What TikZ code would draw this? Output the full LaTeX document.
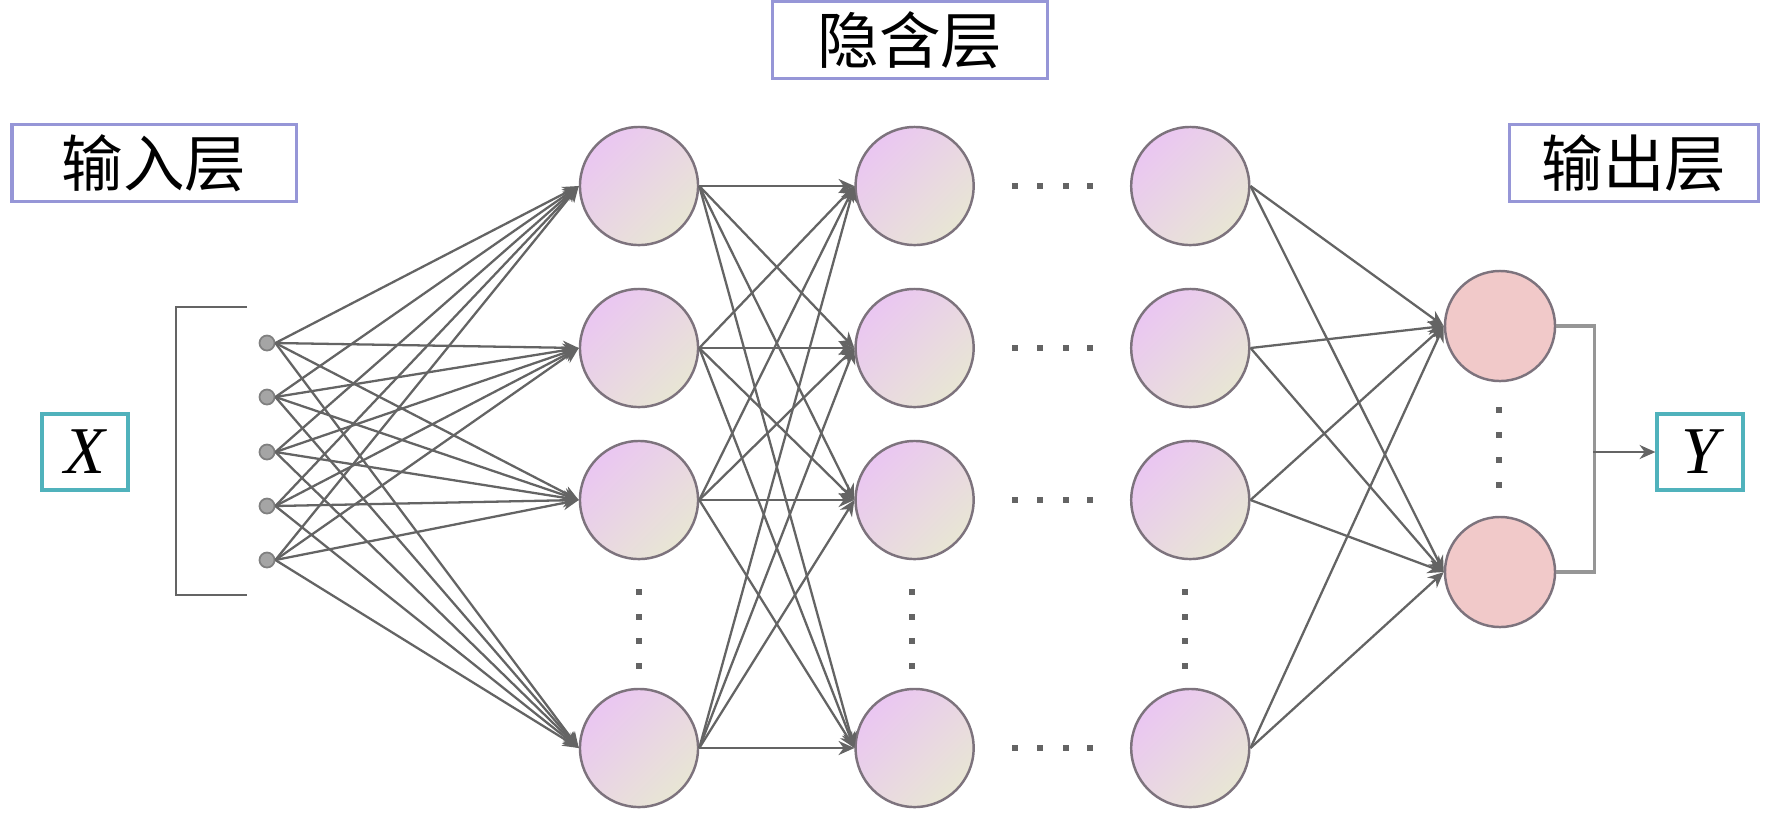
\documentclass[tikz,border=0pt]{standalone}
\usepackage{fontspec}
\setmainfont{Liberation Serif}
\newfontfamily\cjk{Noto Sans CJK SC}
\usepackage{tikz}
\usetikzlibrary{positioning}
\usetikzlibrary{arrows.meta}
\definecolor{linegray}{RGB}{100,100,100}
\definecolor{joingray}{RGB}{150,150,150}
\definecolor{nodeborder}{RGB}{125,115,125}
\definecolor{hidtop}{RGB}{234,198,242}
\definecolor{hidbot}{RGB}{232,230,212}
\definecolor{outfill}{RGB}{241,201,201}
\definecolor{dotfill}{RGB}{165,165,165}
\definecolor{labelblue}{RGB}{150,150,215}
\definecolor{varteal}{RGB}{80,178,188}

\begin{document}
\begin{tikzpicture}[x=0.01cm,y=-0.01cm,
  hidden/.style={circle,draw=nodeborder,line width=0.7pt,minimum size=1.18cm,inner sep=0pt,top color=hidtop,bottom color=hidbot,shading angle=45},
  outnode/.style={circle,draw=nodeborder,line width=0.7pt,minimum size=1.1cm,inner sep=0pt,fill=outfill},
  innode/.style={circle,draw=gray,line width=0.5pt,minimum size=0.15cm,inner sep=0pt,fill=dotfill},
  labelbox/.style={draw=labelblue,line width=0.9pt,minimum width=2.84cm,minimum height=0.77cm,inner sep=0pt,font=\cjk\fontsize{17.5}{20}\selectfont},
  varbox/.style={draw=varteal,line width=0.9pt,minimum width=0.86cm,minimum height=0.76cm,inner sep=0pt,font=\fontsize{19}{22}\selectfont\itshape},
  edge/.style={linegray,line width=0.65pt,->,>={Stealth[length=4.5pt,width=4pt]}}]
\useasboundingbox (0,0) rectangle (1772,814);

% labels
\node (inputlabel) at (154,163) [labelbox] {输入层};
\node (hiddenlabel) at (910,40) [labelbox,minimum width=2.75cm] {隐含层};
\node (outputlabel) at (1634,163) [labelbox,minimum width=2.49cm] {输出层};
\node (X) at (85,452) [varbox] {X};
\node (Y) at (1700,452) [varbox] {Y};

% input layer
\foreach \i/\y in {1/343,2/397,3/452,4/506,5/560}
  \node (input\i) at (267,\y) [innode] {};
\draw[linegray,line width=0.8pt] (247,307) -- (176,307) -- (176,595) -- (247,595);

% hidden layers
\node (first1) at (639,186) [hidden] {};
\node (first2) at (639,348) [hidden] {};
\node (first3) at (639,500) [hidden] {};
\node (first4) at (639,748) [hidden] {};
\foreach \j in {1,...,4} {
  \node (second\j) [right=1.55cm of first\j,hidden] {};
  \node (third\j) [right=1.55cm of second\j,hidden] {};
}

% output layer
\node (output1) at (1500,326) [outnode] {};
\node (output2) at (1500,572) [outnode] {};

% connections
\foreach \i in {1,...,5}
  \foreach \j in {1,...,4}
    \draw[edge] (input\i.east) -- (first\j.west);
\foreach \i in {1,...,4}
  \foreach \j in {1,...,4}
    \draw[edge] (first\i.east) -- (second\j.west);
\foreach \i in {1,...,4}
  \foreach \j in {1,2}
    \draw[edge] (third\i.east) -- (output\j.west);

\coordinate (join) at (1593,452);
\draw[joingray,line width=0.9pt] (output1.east) -- ++(38,0) |- (output2.east);
\draw[edge] (join) -- (Y.west);

% dots
\foreach \x in {639,912,1185}
  \foreach \y in {592,617,641,666}
    \fill[linegray] (\x-3,\y-3) rectangle (\x+3,\y+3);
\foreach \y in {186,348,500,748}
  \foreach \x in {1015,1040,1066,1090}
    \fill[linegray] (\x-3,\y-3) rectangle (\x+3,\y+3);
\foreach \y in {410,435,460,485}
  \fill[linegray] (1499-3,\y-3) rectangle (1499+3,\y+3);
\end{tikzpicture}
\end{document}
